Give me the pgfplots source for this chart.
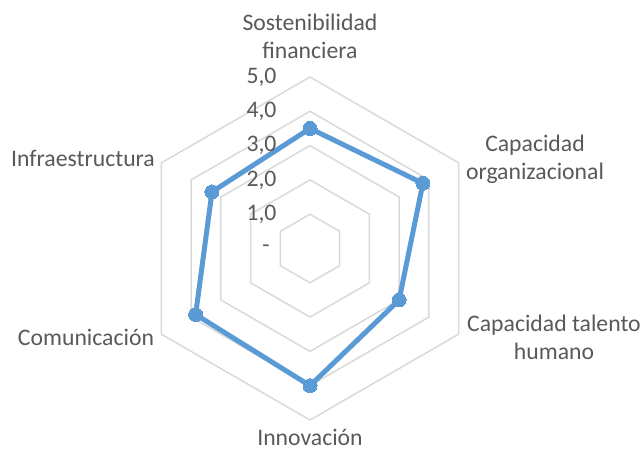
\documentclass[border=0pt]{standalone}
\usepackage{fontspec}
\setmainfont{Carlito}
\usepackage{pgfplots}
\pgfplotsset{compat=1.18}
\usepgfplotslibrary{polar}
\usetikzlibrary{calc}
\definecolor{lbl}{RGB}{89,89,89}
\definecolor{gridc}{RGB}{217,217,217}
\definecolor{serie}{RGB}{91,155,213}

\begin{document}
\begin{tikzpicture}[font=\fontsize{23.7}{28}\selectfont, text=lbl]
\begin{polaraxis}[
    width=343pt, height=343pt, scale only axis,
    hide axis, clip=false,
    ymin=0, ymax=5, xmin=0, xmax=360,
]
% hexagonal grid rings
\foreach \r in {1,2,3,4,5}{
  \edef\tmp{\noexpand\addplot[gridc, line width=1.5pt, no marks] coordinates
    {(90,\r)(30,\r)(-30,\r)(-90,\r)(-150,\r)(150,\r)(90,\r)};}
  \tmp
}
% data
\addplot[serie, line width=5pt, line join=round, mark=*, mark size=7pt,
         mark options={fill=serie, draw=serie, line width=0pt}] coordinates {
  (90,3.5) (30,3.8) (-30,3.0) (-90,4.0) (-150,3.85) (150,3.3) (90,3.5)
};
\coordinate (pole) at (axis cs:0,0);
% radial tick labels
\node[anchor=east] at ($(axis cs:90,5)+(-30pt,0)$) {5,0};
\node[anchor=east] at ($(axis cs:90,4)+(-30pt,0)$) {4,0};
\node[anchor=east] at ($(axis cs:90,3)+(-30pt,0)$) {3,0};
\node[anchor=east] at ($(axis cs:90,2)+(-30pt,0)$) {2,0};
\node[anchor=east] at ($(axis cs:90,1)+(-30pt,0)$) {1,0};
\node at ($(axis cs:90,0)+(-44pt,0)$) {-};
\end{polaraxis}
\node[align=center] at ($(pole)+(0pt,212.5pt)$) {Sostenibilidad\\financiera};
\node[align=center] at ($(pole)+(225pt,89.5pt)$) {Capacidad\\organizacional};
\node[align=center] at ($(pole)+(244pt,-88.5pt)$) {Capacidad talento\\humano};
\node at ($(pole)+(0pt,-189pt)$) {Innovación};
\node at ($(pole)+(-224pt,-88.5pt)$) {Comunicación};
\node at ($(pole)+(-227pt,90.5pt)$) {Infraestructura};
\pgfresetboundingbox
\path[use as bounding box] ($(pole)+(-310pt,-201.5pt)$) rectangle ($(pole)+(334pt,248.5pt)$);
\end{tikzpicture}
\end{document}
